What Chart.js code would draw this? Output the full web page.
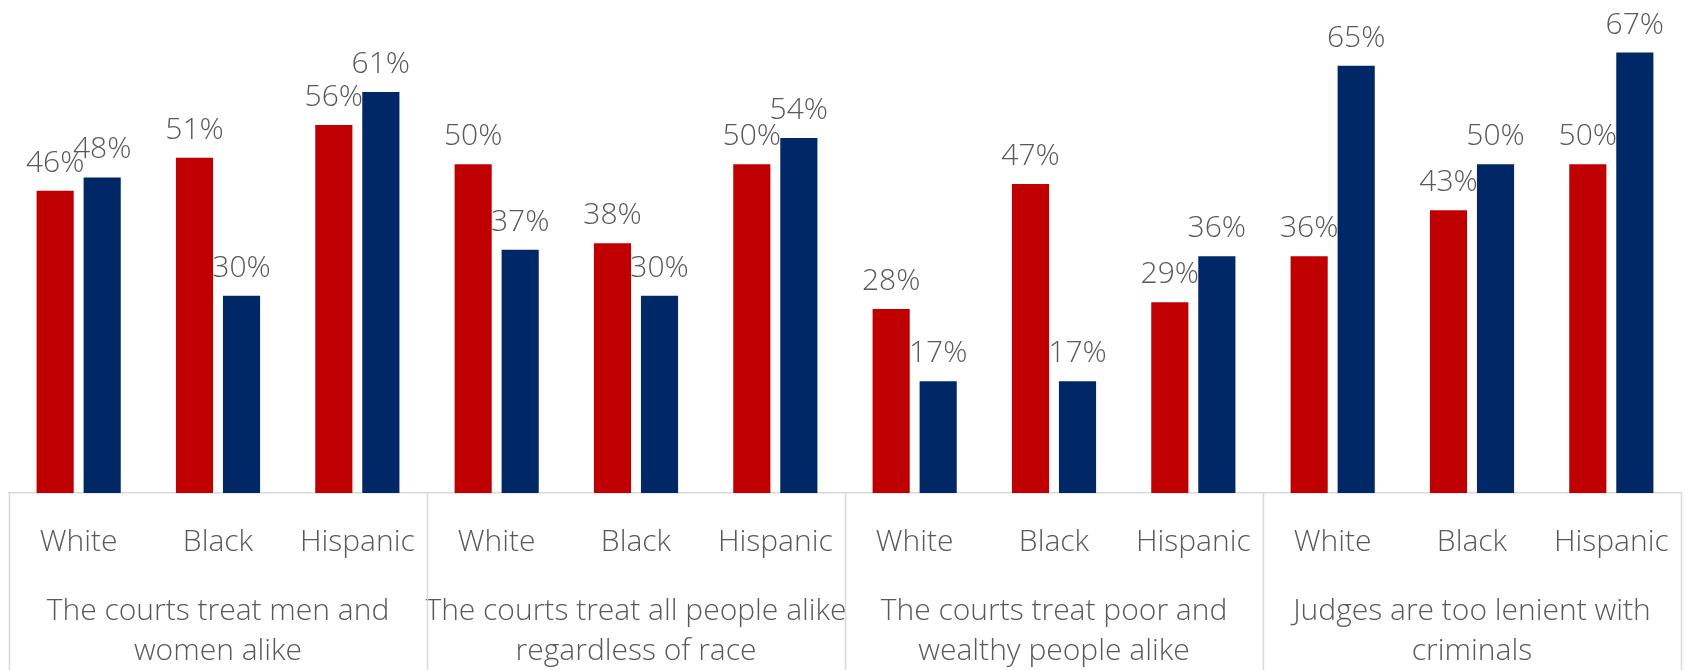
<!DOCTYPE html>
<html>
<head>
<meta charset="utf-8">
<script src="https://cdn.jsdelivr.net/npm/chart.js@4/dist/chart.umd.min.js"></script>
<style>
  html, body { margin: 0; padding: 0; background: #ffffff; }
  #wrap { width: 1685px; height: 670px; }
</style>
</head>
<body>
<div id="wrap"><canvas id="c" width="1685" height="670"></canvas></div>
<script>
// Respondent groups shown under each bar pair
const races = ["White", "Black", "Hispanic", "White", "Black", "Hispanic",
               "White", "Black", "Hispanic", "White", "Black", "Hispanic"];

// Statement shown under each block of three groups
const statements = [
  ["The courts treat men and", "women alike"],
  ["The courts treat all people alike", "regardless of race"],
  ["The courts treat poor and", "wealthy people alike"],
  ["Judges are too lenient with", "criminals"]
];

// Percent agreeing, first series (red) and second series (blue)
const redValues  = [46, 51, 56, 50, 38, 50, 28, 47, 29, 36, 43, 50];
const blueValues = [48, 30, 61, 37, 30, 54, 17, 17, 36, 65, 50, 67];

const FONT = "'Open Sans', 'Segoe UI', sans-serif";
const TEXT = "#595959";
const RULE = "#d9d9d9";

// Writes each bar's value above its top
const valueLabels = {
  id: "valueLabels",
  afterDatasetsDraw(chart) {
    const ctx = chart.ctx;
    ctx.save();
    ctx.font = "300 30px " + FONT;
    ctx.fillStyle = TEXT;
    ctx.textAlign = "center";
    ctx.textBaseline = "alphabetic";
    chart.data.datasets.forEach((ds, di) => {
      chart.getDatasetMeta(di).data.forEach((bar, i) => {
        ctx.fillText(ds.data[i] + "%", bar.x, bar.y - 19);
      });
    });
    ctx.restore();
  }
};

// Vertical rules separating the statement blocks below the baseline
const blockRules = {
  id: "blockRules",
  afterDraw(chart) {
    const s = chart.scales.x2;
    const n = s.ticks.length;
    const step = (s.right - s.left) / n;
    const ctx = chart.ctx;
    ctx.save();
    ctx.strokeStyle = RULE;
    ctx.lineWidth = 1.5;
    for (let i = 0; i <= n; i++) {
      const x = Math.round(s.left + i * step) + 0.5;
      ctx.beginPath();
      ctx.moveTo(x, chart.chartArea.bottom);
      ctx.lineTo(x, chart.height);
      ctx.stroke();
    }
    ctx.restore();
  }
};

new Chart(document.getElementById("c"), {
  type: "bar",
  data: {
    labels: races,
    datasets: [
      { data: redValues,  backgroundColor: "#c00000", xAxisID: "x", barPercentage: 0.79, categoryPercentage: 0.675 },
      { data: blueValues, backgroundColor: "#002866", xAxisID: "x", barPercentage: 0.79, categoryPercentage: 0.675 }
    ]
  },
  options: {
    responsive: false,
    animation: false,
    devicePixelRatio: 1,
    layout: { padding: { left: 9, right: 4, top: 0, bottom: 0 } },
    plugins: { legend: { display: false }, tooltip: { enabled: false } },
    scales: {
      y: { display: false, min: 0, max: 75 },
      x: {
        type: "category",
        position: "bottom",
        weight: 0,
        offset: true,
        border: { display: true, color: RULE, width: 1.5 },
        grid: { display: false, drawTicks: false },
        ticks: {
          padding: 0,
          color: TEXT,
          font: { family: FONT, size: 30, weight: 300, lineHeight: "99px" },
          maxRotation: 0,
          autoSkip: false
        }
      },
      x2: {
        type: "category",
        position: "bottom",
        weight: 1,
        offset: true,
        labels: statements,
        border: { display: false },
        grid: { display: false, drawTicks: false },
        ticks: {
          padding: -1,
          color: TEXT,
          font: { family: FONT, size: 30, weight: 300, lineHeight: "40px" },
          maxRotation: 0,
          autoSkip: false
        }
      }
    }
  },
  plugins: [valueLabels, blockRules]
});
</script>
</body>
</html>
